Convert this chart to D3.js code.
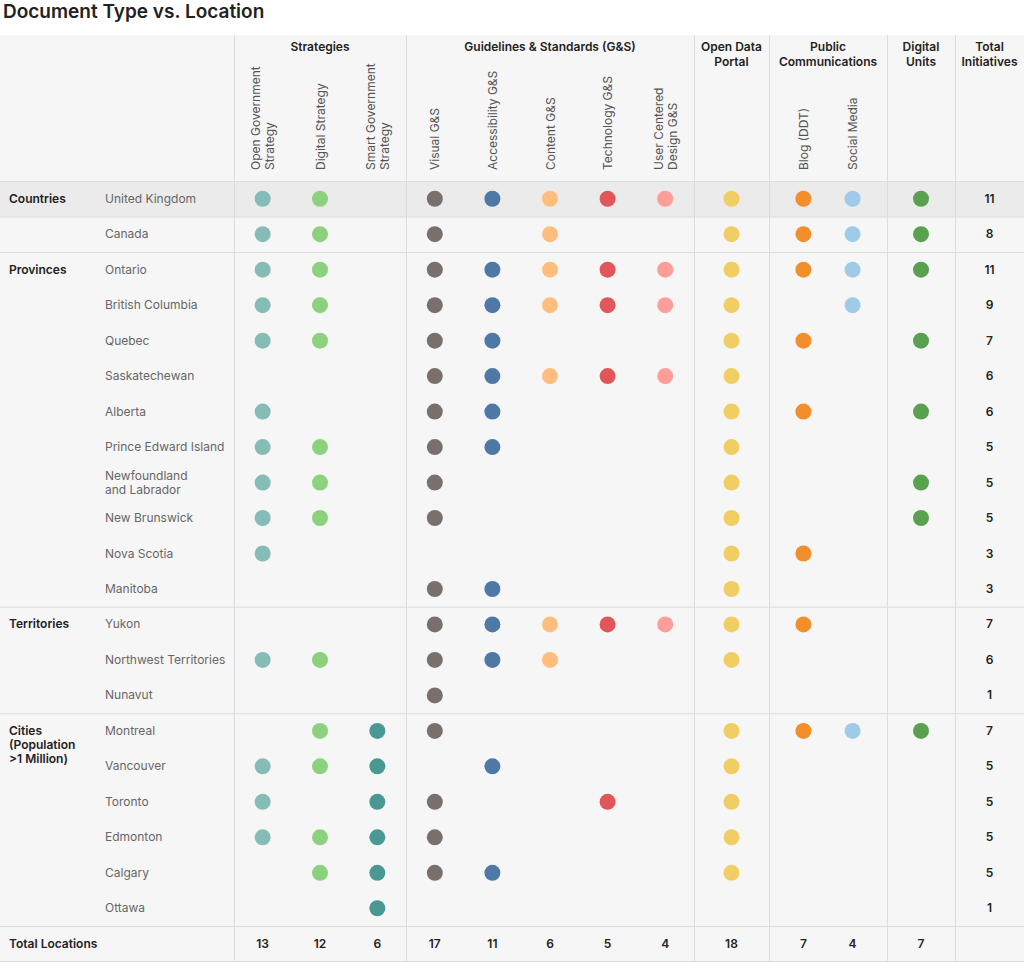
<!DOCTYPE html>
<html>
<head>
<meta charset="utf-8">
<script src="https://cdn.jsdelivr.net/npm/d3@7"></script>
<style>
  html, body { margin: 0; padding: 0; background: #ffffff; }
  svg { display: block; font-family: Inter, "Noto Sans", sans-serif; }
</style>
</head>
<body>
<svg id="chart" width="1024" height="963"></svg>
<script>
// ---------- DATA ----------
const title = "Document Type vs. Location";

const groups = [
  { name: "Strategies", lines: ["Strategies"], cols: ["og", "ds", "sg"] },
  { name: "G&S", lines: ["Guidelines & Standards (G&S)"], cols: ["vis", "acc", "con", "tech", "ucd"] },
  { name: "Open Data Portal", lines: ["Open Data", "Portal"], cols: ["od"] },
  { name: "Public Communications", lines: ["Public", "Communications"], cols: ["blog", "soc"] },
  { name: "Digital Units", lines: ["Digital", "Units"], cols: ["du"] }
];

const columnKeys = ["og", "ds", "sg", "vis", "acc", "con", "tech", "ucd", "od", "blog", "soc", "du"];
const columnLabels = {
  og: ["Open Government", "Strategy"],
  ds: ["Digital Strategy"],
  sg: ["Smart Government", "Strategy"],
  vis: ["Visual G&S"],
  acc: ["Accessibility G&S"],
  con: ["Content G&S"],
  tech: ["Technology G&S"],
  ucd: ["User Centered", "Design G&S"],
  od: [],
  blog: ["Blog (DDT)"],
  soc: ["Social Media"],
  du: []
};
const columnColors = {
  og: "#86bcb6", ds: "#8cd17d", sg: "#499894",
  vis: "#79706e", acc: "#4e79a7", con: "#ffbe7d", tech: "#e15759", ucd: "#ff9d9a",
  od: "#f1ce63", blog: "#f28e2b", soc: "#a0cbe8", du: "#59a14f"
};

const locationGroups = [
  { name: ["Countries"], rows: ["United Kingdom", "Canada"] },
  { name: ["Provinces"], rows: ["Ontario", "British Columbia", "Quebec", "Saskatechewan", "Alberta", "Prince Edward Island", "Newfoundland and Labrador", "New Brunswick", "Nova Scotia", "Manitoba"] },
  { name: ["Territories"], rows: ["Yukon", "Northwest Territories", "Nunavut"] },
  { name: ["Cities", "(Population", ">1 Million)"], rows: ["Montreal", "Vancouver", "Toronto", "Edmonton", "Calgary", "Ottawa"] }
];

const locationLabelLines = {
  "Newfoundland and Labrador": ["Newfoundland", "and Labrador"]
};

const initiatives = {
  "United Kingdom": ["og", "ds", "vis", "acc", "con", "tech", "ucd", "od", "blog", "soc", "du"],
  "Canada": ["og", "ds", "vis", "con", "od", "blog", "soc", "du"],
  "Ontario": ["og", "ds", "vis", "acc", "con", "tech", "ucd", "od", "blog", "soc", "du"],
  "British Columbia": ["og", "ds", "vis", "acc", "con", "tech", "ucd", "od", "soc"],
  "Quebec": ["og", "ds", "vis", "acc", "od", "blog", "du"],
  "Saskatechewan": ["vis", "acc", "con", "tech", "ucd", "od"],
  "Alberta": ["og", "vis", "acc", "od", "blog", "du"],
  "Prince Edward Island": ["og", "ds", "vis", "acc", "od"],
  "Newfoundland and Labrador": ["og", "ds", "vis", "od", "du"],
  "New Brunswick": ["og", "ds", "vis", "od", "du"],
  "Nova Scotia": ["og", "od", "blog"],
  "Manitoba": ["vis", "acc", "od"],
  "Yukon": ["vis", "acc", "con", "tech", "ucd", "od", "blog"],
  "Northwest Territories": ["og", "ds", "vis", "acc", "con", "od"],
  "Nunavut": ["vis"],
  "Montreal": ["ds", "sg", "vis", "od", "blog", "soc", "du"],
  "Vancouver": ["og", "ds", "sg", "acc", "od"],
  "Toronto": ["og", "sg", "vis", "tech", "od"],
  "Edmonton": ["og", "ds", "sg", "vis", "od"],
  "Calgary": ["ds", "sg", "vis", "acc", "od"],
  "Ottawa": ["sg"]
};

const totalInitiatives = [11, 8, 11, 9, 7, 6, 6, 5, 5, 5, 3, 3, 7, 6, 1, 7, 5, 5, 5, 5, 1];
const totalLocations = [13, 12, 6, 17, 11, 6, 5, 4, 18, 7, 4, 7];
const highlightedRow = "United Kingdom";

// ---------- LAYOUT ----------
const svg = d3.select("#chart");
const W = 1024, H = 963;
const tableTop = 35, headerBottom = 181, bodyBottom = 926, tableBottom = 961;
const groupEdges = [234, 406, 694, 769, 887, 955];
const totalColEnd = 1024;
const lineColor = "#dcdcdc";

const rows = locationGroups.flatMap(g => g.rows);

const y = d3.scaleBand().domain(rows).range([headerBottom, bodyBottom]);

// x positions via point scales per group
const xPos = {};
groups.forEach((g, i) => {
  const pad = g.name === "Public Communications" ? 0.7 : 0.5;
  const s = d3.scalePoint().domain(g.cols).range([groupEdges[i], groupEdges[i + 1]]).padding(pad);
  g.cols.forEach(c => xPos[c] = s(c));
  g.center = (groupEdges[i] + groupEdges[i + 1]) / 2;
});
const totalX = (groupEdges[5] + totalColEnd) / 2;

// background
svg.append("rect").attr("x", 0).attr("y", 0).attr("width", W).attr("height", H).attr("fill", "#ffffff");
svg.append("rect").attr("x", 0).attr("y", tableTop).attr("width", W).attr("height", tableBottom - tableTop).attr("fill", "#f6f6f6");

// highlighted row
svg.append("rect")
  .attr("x", 0).attr("y", y(highlightedRow))
  .attr("width", W).attr("height", y.bandwidth())
  .attr("fill", "#ebebeb");

// title
svg.append("text")
  .attr("x", 3).attr("y", 18)
  .attr("font-size", 19).attr("font-weight", 600).attr("fill", "#222")
  .text(title);

// horizontal lines
const hLines = [headerBottom];
let acc = 0;
locationGroups.forEach(g => {
  acc += g.rows.length;
  hLines.push(y(rows[acc - 1]) + y.bandwidth());
});
hLines.push(y("Canada"));
svg.selectAll("line.h").data(hLines).join("line")
  .attr("x1", 0).attr("x2", W)
  .attr("y1", d => d + 0.5).attr("y2", d => d + 0.5)
  .attr("stroke", lineColor).attr("stroke-width", 1);
svg.append("line").attr("x1", 0).attr("x2", W)
  .attr("y1", tableBottom + 0.5).attr("y2", tableBottom + 0.5)
  .attr("stroke", lineColor);

// vertical lines
svg.selectAll("line.v").data(groupEdges).join("line")
  .attr("x1", d => d + 0.5).attr("x2", d => d + 0.5)
  .attr("y1", tableTop).attr("y2", tableBottom)
  .attr("stroke", lineColor).attr("stroke-width", 1);

// header group labels
groups.forEach(g => {
  g.lines.forEach((ln, i) => {
    svg.append("text")
      .attr("x", g.center).attr("y", 51 + i * 15)
      .attr("text-anchor", "middle")
      .attr("font-size", 12).attr("font-weight", 600).attr("fill", "#222")
      .text(ln);
  });
});
["Total", "Initiatives"].forEach((ln, i) => {
  svg.append("text")
    .attr("x", totalX).attr("y", 51 + i * 15)
    .attr("text-anchor", "middle")
    .attr("font-size", 12).attr("font-weight", 600).attr("fill", "#222")
    .text(ln);
});

// rotated column labels
columnKeys.forEach(k => {
  const lines = columnLabels[k];
  const n = lines.length;
  lines.forEach((ln, i) => {
    const off = (i - (n - 1) / 2) * 14;
    const cx = xPos[k] + off + 4.5;
    svg.append("text")
      .attr("transform", `translate(${cx},170) rotate(-90)`)
      .attr("text-anchor", "start")
      .attr("font-size", 12).attr("fill", "#555")
      .text(ln);
  });
});

// row group labels
locationGroups.forEach(g => {
  const y0 = y(g.rows[0]) + y.bandwidth() / 2 + 4;
  g.name.forEach((ln, i) => {
    svg.append("text")
      .attr("x", 9).attr("y", y0 + i * 14)
      .attr("font-size", 12).attr("font-weight", 600).attr("fill", "#222")
      .text(ln);
  });
});

// row labels
rows.forEach(r => {
  const lines = locationLabelLines[r] || [r];
  const n = lines.length;
  lines.forEach((ln, i) => {
    svg.append("text")
      .attr("x", 105)
      .attr("y", y(r) + y.bandwidth() / 2 + 4 + (i - (n - 1) / 2) * 14)
      .attr("font-size", 12).attr("fill", "#666")
      .text(ln);
  });
});

// dots
const cells = rows.flatMap(r => initiatives[r].map(k => ({ row: r, col: k })));
svg.selectAll("circle.dot").data(cells).join("circle")
  .attr("class", "dot")
  .attr("cx", d => xPos[d.col])
  .attr("cy", d => y(d.row) + y.bandwidth() / 2)
  .attr("r", 8)
  .attr("fill", d => columnColors[d.col]);

// totals per row
svg.selectAll("text.rowTotal").data(rows).join("text")
  .attr("class", "rowTotal")
  .attr("x", totalX)
  .attr("y", (d) => y(d) + y.bandwidth() / 2 + 4)
  .attr("text-anchor", "middle")
  .attr("font-size", 12).attr("font-weight", 600).attr("fill", "#222")
  .text((d, i) => totalInitiatives[i]);

// Total locations row
const totalRowY = (bodyBottom + tableBottom) / 2 + 4;
svg.append("text")
  .attr("x", 9).attr("y", totalRowY)
  .attr("font-size", 12).attr("font-weight", 600).attr("fill", "#222")
  .text("Total Locations");
svg.selectAll("text.colTotal").data(columnKeys).join("text")
  .attr("class", "colTotal")
  .attr("x", d => xPos[d])
  .attr("y", totalRowY)
  .attr("text-anchor", "middle")
  .attr("font-size", 12).attr("font-weight", 600).attr("fill", "#222")
  .text((d, i) => totalLocations[i]);
</script>
</body>
</html>
